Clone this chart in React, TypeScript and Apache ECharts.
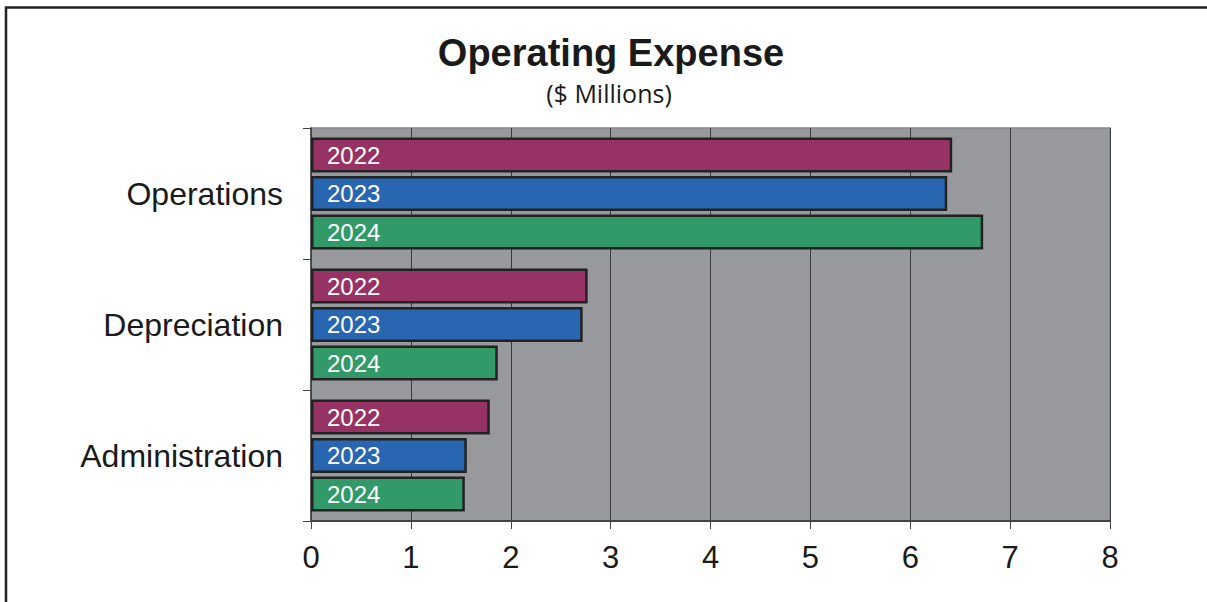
import React, { useEffect, useRef } from "react";
import * as echarts from "echarts";

const categories = ["Operations", "Depreciation", "Administration"];
const years = ["2022", "2023", "2024"];
const values2022 = [6.42, 2.77, 1.79];
const values2023 = [6.37, 2.72, 1.56];
const values2024 = [6.73, 1.87, 1.54];
const xTicks = [0, 8, 1];
const colors = ["#973264", "#2966b1", "#329a68"];

export default function App() {
  const ref = useRef<HTMLDivElement>(null);
  useEffect(() => {
    if (!ref.current) return;
    const chart = echarts.init(ref.current, undefined, { renderer: "svg" });
    const seriesData = [values2022, values2023, values2024];
    const font = "'Liberation Sans', Arial, sans-serif";
    chart.setOption({
      animation: false,
      backgroundColor: "#ffffff",
      graphic: [
        {
          type: "rect",
          shape: { x: 6, y: 7.5, width: 1300, height: 700 },
          style: { fill: "none", stroke: "#222", lineWidth: 2.5 },
          silent: true,
        },
        {
          type: "text",
          x: 611,
          y: 53,
          style: {
            text: "Operating Expense",
            fontSize: 38,
            fontWeight: "bold",
            fontFamily: font,
            fill: "#1a1a1a",
            align: "center",
            verticalAlign: "middle",
          },
        },
        {
          type: "text",
          x: 609,
          y: 93,
          style: {
            text: "($ Millions)",
            fontSize: 25,
            fontFamily: "'Open Sans', sans-serif",
            fill: "#1a1a1a",
            align: "center",
            verticalAlign: "middle",
          },
        },
      ],
      grid: {
        left: 311,
        right: 97,
        top: 128,
        bottom: 81,
        show: true,
        backgroundColor: "#98999d",
        borderColor: "#85868a",
        borderWidth: 1.5,
      },
      xAxis: {
        type: "value",
        min: xTicks[0],
        max: xTicks[1],
        interval: xTicks[2],
        axisLine: { show: true, lineStyle: { color: "#444", width: 2 } },
        axisTick: { show: true, length: 8, lineStyle: { color: "#444", width: 1 } },
        axisLabel: { fontSize: 31, fontFamily: font, color: "#1a1a1a", margin: 21 },
        splitLine: { show: true, lineStyle: { color: "#3a3a3a", width: 1 } },
      },
      yAxis: {
        type: "category",
        data: categories,
        inverse: true,
        axisLine: { show: true, lineStyle: { color: "#444", width: 1.5 } },
        axisTick: { show: true, length: 8, lineStyle: { color: "#444", width: 1 } },
        axisLabel: { fontSize: 32, fontFamily: font, color: "#1a1a1a", margin: 28 },
        splitLine: { show: false },
      },
      series: years.map((y, i) => ({
        name: y,
        type: "bar",
        data: seriesData[i],
        barWidth: 35,
        barGap: "10%",
        itemStyle: { color: colors[i], borderColor: "#222", borderWidth: 2.5 },
        label: {
          show: true,
          position: "insideLeft",
          distance: 16,
          formatter: y,
          color: "#ffffff",
          fontSize: 24,
          fontFamily: font,
        },
      })),
    });
    return () => chart.dispose();
  }, []);
  return (
    <div
      ref={ref}
      style={{ position: "fixed", left: 0, top: 0, width: 1207, height: 602 }}
    />
  );
}
